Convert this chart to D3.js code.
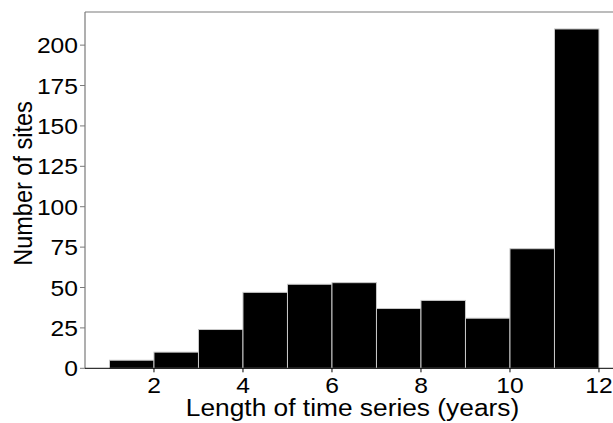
<!DOCTYPE html>
<html>
<head>
<meta charset="utf-8">
<script src="https://cdn.jsdelivr.net/npm/d3@7"></script>
<style>
  html, body { margin: 0; padding: 0; background: #fff; }
  text { font-family: "Liberation Sans", Arial, sans-serif; fill: #000; }
</style>
</head>
<body>
<script>
// Data
const binStarts = [1, 2, 3, 4, 5, 6, 7, 8, 9, 10, 11];
const binWidth = 1;
const counts = [5, 10, 24, 47, 52, 53, 37, 42, 31, 74, 210];
const xTicks = [2, 4, 6, 8, 10, 12];
const yTicks = [0, 25, 50, 75, 100, 125, 150, 175, 200];
const xTitle = "Length of time series (years)";
const yTitle = "Number of sites";

(function () {
const W = 613, H = 423;
const pLeft = 85, pTop = 12, pBottom = 368.3;
const stretch = 1.12;

const svg = d3.select("body").append("svg")
  .attr("width", W).attr("height", H);

const x = d3.scaleLinear().domain([0.45, 12.55]).range([pLeft, pLeft + 12.1 * 44.5]);
const y = d3.scaleLinear().domain([0, 220.5]).range([pBottom, pTop]);

// bars
svg.append("g").selectAll("rect")
  .data(binStarts.map((s, i) => ({ s, c: counts[i] })))
  .join("rect")
  .attr("x", d => x(d.s))
  .attr("width", d => x(d.s + binWidth) - x(d.s))
  .attr("y", d => y(d.c))
  .attr("height", d => y(0) - y(d.c))
  .attr("fill", "#000")
  .attr("stroke", "#c8c8c8")
  .attr("stroke-width", 1);

// panel borders (top and left)
svg.append("line").attr("x1", pLeft).attr("x2", W).attr("y1", pTop).attr("y2", pTop)
  .attr("stroke", "#7a7a7a").attr("stroke-width", 1.2);
svg.append("line").attr("x1", pLeft).attr("x2", pLeft).attr("y1", pTop).attr("y2", pBottom)
  .attr("stroke", "#7a7a7a").attr("stroke-width", 1.2);

// zero line / x-axis line
svg.append("line").attr("x1", pLeft).attr("x2", W).attr("y1", y(0)).attr("y2", y(0))
  .attr("stroke", "#000").attr("stroke-width", 1);

// y ticks
const yg = svg.append("g");
yg.selectAll("line").data(yTicks).join("line")
  .attr("x1", pLeft - 5).attr("x2", pLeft)
  .attr("y1", d => y(d)).attr("y2", d => y(d))
  .attr("stroke", "#7a7a7a").attr("stroke-width", 1);
yg.selectAll("text").data(yTicks).join("text")
  .attr("transform", d => `translate(${78},${y(d) + 8}) scale(${stretch},1)`)
  .attr("text-anchor", "end")
  .attr("font-size", 22)
  .text(d => d);

// x ticks
const xg = svg.append("g");
xg.selectAll("line").data(xTicks).join("line")
  .attr("x1", d => x(d)).attr("x2", d => x(d))
  .attr("y1", y(0)).attr("y2", y(0) + 4)
  .attr("stroke", "#000").attr("stroke-width", 1);
xg.selectAll("text").data(xTicks).join("text")
  .attr("transform", d => `translate(${x(d)},${393}) scale(${stretch},1)`)
  .attr("text-anchor", "middle")
  .attr("font-size", 22)
  .text(d => d);

// axis titles
svg.append("text")
  .attr("transform", `translate(${352.5},${416}) scale(${stretch},1)`)
  .attr("text-anchor", "middle")
  .attr("font-size", 23.5)
  .text(xTitle);

svg.append("text")
  .attr("transform", `translate(${32},${183.5}) scale(${stretch},1) rotate(-90)`)
  .attr("text-anchor", "middle")
  .attr("font-size", 23.5)
  .text(yTitle);
})();
</script>
</body>
</html>
